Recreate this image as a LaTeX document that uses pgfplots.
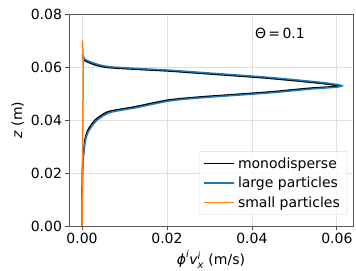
\documentclass[border=0pt]{standalone}
\usepackage{amsmath}
\usepackage{fontspec}
\setmainfont{DejaVu Sans}
\usepackage{pgfplots}
\pgfplotsset{compat=1.18}
\definecolor{tabblue}{HTML}{1F77B4}
\definecolor{taborange}{HTML}{FF7F0E}
\begin{document}
\begin{tikzpicture}[font=\fontsize{14bp}{17bp}\selectfont]
\begin{axis}[
  scale only axis, width=284bp, height=212bp,
  xmin=-0.00306, xmax=0.0638, ymin=0, ymax=0.08,
  xtick={0,0.02,0.04,0.06}, ytick={0,0.02,0.04,0.06,0.08},
  scaled ticks=false,
  tick label style={/pgf/number format/.cd, fixed, fixed zerofill, precision=2, assume math mode=true},
  tick align=outside, tick pos=left, major tick length=3.5bp,
  tick style={black!70, line width=0.8pt},
  axis line style={black!65, line width=0.8pt},
  grid=major, grid style={gray!25, line width=0.8pt},
  xlabel={$\textit{ϕ}^{\textit{i}}\textit{v}^{\textit{i}}_{\textit{x}}$ (m/s)},
  ylabel={\textit{z} (m)},
  legend style={at={(0.979,0.052)}, anchor=south east, draw=gray!30, rounded corners=2pt,
    fill=white, fill opacity=0.8, text opacity=1, row sep=1.5bp, inner xsep=4bp, inner ysep=3bp,
    nodes={inner sep=3bp},
    /tikz/every even column/.append style={column sep=6bp}},
  legend cell align=left,
  legend image code/.code={\draw[#1, line width=1.5pt] (0bp,0bp) -- (30bp,0bp);},
]
\coordinate (SW) at (rel axis cs:0,0);
\coordinate (NE) at (rel axis cs:1,1);
\addplot[black, line width=1.5pt, smooth, tension=0.4] coordinates {
(0,0) (0.00002,0.01) (0.0001,0.0192) (0.0002,0.0249) (0.0007,0.0325) (0.0014,0.0362) (0.0031,0.0400) (0.0061,0.0431) (0.0125,0.0450) (0.0202,0.0475) (0.0278,0.0487) (0.0435,0.0505) (0.0536,0.0520) (0.0595,0.0526) (0.0607,0.0529) (0.0595,0.0532) (0.0553,0.0540) (0.0435,0.0558) (0.0289,0.0575) (0.0202,0.0585) (0.0120,0.0592) (0.0061,0.0598) (0.0035,0.0606) (0.0019,0.0615) (0.0005,0.0626) (0.0002,0.0638) (0.0001,0.0645)
};
\addlegendentry{monodisperse}
\addplot[tabblue, line width=1.5pt, smooth, tension=0.4] coordinates {
(0,0) (0.00003,0.01) (0.00012,0.019) (0.00025,0.0246) (0.0008,0.0322) (0.0016,0.0359) (0.0034,0.0397) (0.0065,0.0428) (0.0129,0.0447) (0.0206,0.0472) (0.0282,0.0484) (0.0439,0.0502) (0.0540,0.0517) (0.0600,0.0524) (0.0612,0.0529) (0.0600,0.0534) (0.0557,0.0543) (0.0439,0.0561) (0.0293,0.0578) (0.0206,0.0588) (0.0124,0.0595) (0.0065,0.0601) (0.0039,0.0609) (0.0022,0.0618) (0.0007,0.0629) (0.0003,0.0641) (0.0001,0.0648)
};
\addlegendentry{large particles}
\addplot[taborange, line width=1.5pt] coordinates {
(0,0) (0.00005,0.01) (0.0001,0.02) (0.00015,0.03) (0.0002,0.04) (0.00025,0.05) (0.0003,0.06) (0.0002,0.066) (0.0001,0.07)
};
\addlegendentry{small particles}
\node at (axis cs:0.0466,0.0728) {Θ\,=\,0.1};
\end{axis}
\pgfresetboundingbox
\path[use as bounding box] ([xshift=-69bp,yshift=-45bp]SW) rectangle ([xshift=3bp,yshift=14bp]NE);
\end{tikzpicture}
\end{document}
